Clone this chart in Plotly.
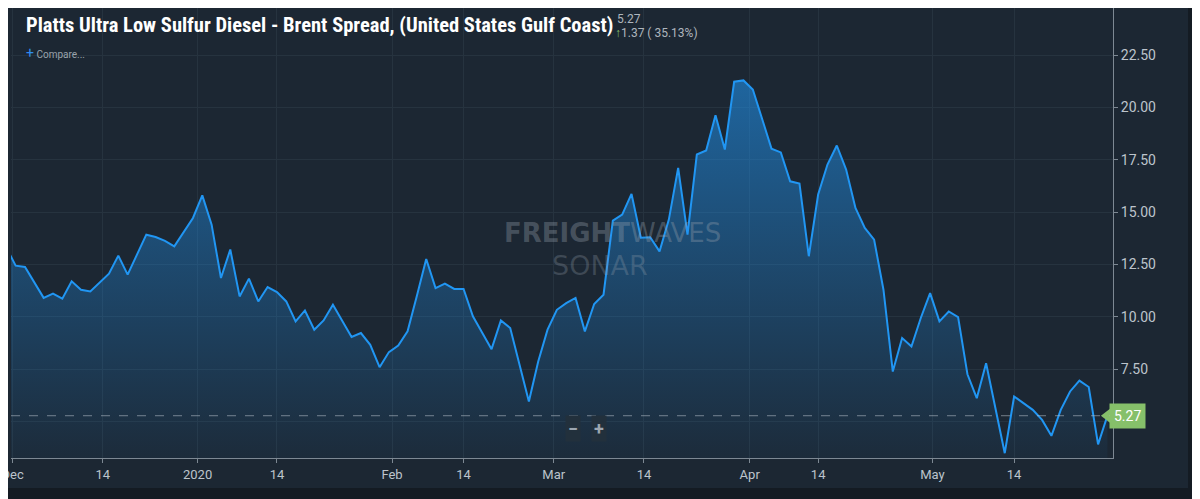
import pandas as pd
import plotly.graph_objects as go

# ---------------- data ----------------
first_day = "2019-11-29"
last_day = "2020-05-29"
# weekdays without an assessment (holidays / gaps in the series)
missing_days = ["2019-12-24", "2019-12-25", "2020-01-01", "2020-01-20",
                "2020-02-06", "2020-02-07", "2020-02-17", "2020-03-31",
                "2020-04-01", "2020-04-10", "2020-05-01", "2020-05-25"]

spread = [13.30, 12.44, 12.38, 11.63, 10.90, 11.10, 10.86, 11.69, 11.29, 11.21,
          11.62, 12.06, 12.92, 12.01, 12.97, 13.92, 13.81, 13.62, 13.36, 14.03,
          14.72, 15.80, 14.40, 11.85, 13.21, 10.97, 11.82, 10.73, 11.42, 11.18,
          10.73, 9.78, 10.30, 9.38, 9.82, 10.57, 9.78, 9.03, 9.22, 8.66,
          7.59, 8.31, 8.62, 9.30, 11.00, 12.76, 11.37, 11.58, 11.33, 11.33,
          10.02, 9.22, 8.45, 9.82, 9.46, 7.70, 5.95, 7.86, 9.38, 10.33,
          10.65, 10.90, 9.30, 10.61, 11.05, 14.59, 14.88, 15.87, 13.77, 13.80,
          13.12, 14.64, 17.11, 13.92, 17.75, 17.94, 19.63, 17.99, 21.23, 21.29,
          20.86, 19.45, 18.03, 17.85, 16.47, 16.36, 12.89, 15.84, 17.27, 18.18,
          17.03, 15.20, 14.24, 13.68, 11.29, 7.38, 8.98, 8.58, 9.94, 11.13,
          9.78, 10.25, 9.98, 7.25, 6.11, 7.78, 5.63, 3.48, 6.19, 5.87,
          5.55, 5.07, 4.31, 5.55, 6.43, 6.95, 6.64, 3.90, 5.27]

tick_dates = ["2019-12-01", "2019-12-14", "2020-01-01", "2020-01-14",
              "2020-02-01", "2020-02-14", "2020-03-01", "2020-03-14",
              "2020-04-01", "2020-04-14", "2020-05-01", "2020-05-14"]
tick_labels = ["Dec", "14", "2020", "14", "Feb", "14", "Mar", "14",
               "Apr", "14", "May", "14"]
# 5.00 is hidden behind the last-value label in the original
y_ticks = [7.5, 10.0, 12.5, 15.0, 17.5, 20.0, 22.5]

title_text = "Platts Ultra Low Sulfur Diesel - Brent Spread, (United States Gulf Coast)"
last_value = 5.27
change_value = 1.37
change_pct = 35.13

# ---------------- derived ----------------
miss = set(pd.to_datetime(missing_days))
dates = [d for d in pd.bdate_range(first_day, last_day) if d not in miss]
assert len(dates) == len(spread), (len(dates), len(spread))

# ordinal-axis tick placement: a date between two points sits proportionally between them
day = pd.Timedelta(days=1)
tick_pos = []
for t in pd.to_datetime(tick_dates):
    if t in dates:
        tick_pos.append(t)
        continue
    a = max(d for d in dates if d < t)
    b = min(d for d in dates if d > t)
    f = (t - a) / (b - a)
    tick_pos.append(a + f * day)

# ---------------- geometry (layout only) ----------------
# the page body adds an 8px offset, so the figure is drawn 8px smaller
OFF = 8
W, H = 1200 - OFF, 499 - OFF
# plot area in screen pixels
L, R, T, B = 11, 1113, 8, 458


def px(x):
    return (x - L) / (R - L)


def py(y):
    return (B - y) / (B - T)


BG = "#1c2733"
DARK = "#141b23"
LINE = "#2196f3"
GRID = "#26333f"
AXIS = "#7d8893"
TXT = "#bcc4cc"
GREEN = "#86c06a"

fig = go.Figure()
fig.add_trace(go.Scatter(
    x=dates, y=spread, mode="lines",
    line=dict(color=LINE, width=2),
    fill="tozeroy",
    fillgradient=dict(type="vertical",
                      colorscale=[[0, "rgba(33,150,243,0.04)"],
                                  [1, "rgba(33,150,243,0.58)"]],
                      start=3.25, stop=22.0),
    hoverinfo="skip", showlegend=False,
))
# pointer of the last-value label
fig.add_trace(go.Scatter(
    x=[dates[-1]], y=[last_value], mode="markers",
    marker=dict(symbol="triangle-left", size=13, color=GREEN),
    cliponaxis=False, hoverinfo="skip", showlegend=False,
))

fig.update_layout(
    width=W, height=H,
    margin=dict(l=L - OFF, r=W - (R - OFF), t=T - OFF, b=H - (B - OFF),
                autoexpand=False),
    paper_bgcolor=BG, plot_bgcolor=BG,
    font=dict(family="Roboto, sans-serif", color=TXT),
    xaxis=dict(
        type="date", automargin=False,
        range=[dates[0] + 0.5 * day, dates[-1] + 0.6 * day],
        rangebreaks=[dict(bounds=["sat", "mon"]),
                     dict(values=missing_days)],
        tickvals=tick_pos, ticktext=tick_labels,
        ticklabeloverflow="allow",
        showgrid=True, gridcolor=GRID, gridwidth=1,
        showline=True, linecolor=AXIS, linewidth=1,
        ticks="outside", ticklen=4, tickcolor=AXIS,
        tickfont=dict(family="Roboto", size=13, color=TXT),
        zeroline=False, fixedrange=True,
    ),
    yaxis=dict(
        side="right", automargin=False,
        range=[3.25, 24.75], tickvals=y_ticks,
        tickformat=".2f",
        showgrid=True, gridcolor=GRID, gridwidth=1,
        minor=dict(dtick=2.5, tick0=0, showgrid=True, gridcolor=GRID, ticks=""),
        showline=True, linecolor=AXIS, linewidth=1,
        ticks="outside", ticklen=4, tickcolor=AXIS,
        tickfont=dict(family="Roboto", size=14, color=TXT),
        zeroline=False, fixedrange=True,
    ),
)

# dashed last-value line
fig.add_shape(type="line", xref="paper", yref="y", x0=0, x1=1,
              y0=last_value, y1=last_value,
              line=dict(color="rgba(190,200,210,0.55)", width=1, dash="dash"))

# dark frame strips (right and bottom)
for x0, x1, y0, y1 in [(px(1188), px(1200 + 5), py(499 + 5), py(0)),
                       (px(0), px(1200 + 5), py(499 + 5), py(488))]:
    fig.add_shape(type="rect", xref="paper", yref="paper",
                  x0=x0, x1=x1, y0=y0, y1=y1,
                  fillcolor=DARK, line=dict(width=0), layer="above")

ann = []
ann.append(dict(text="<b>" + title_text + "</b>", x=px(24), y=py(25),
                xanchor="left", yanchor="middle", showarrow=False,
                font=dict(family="Liberation Sans Narrow, Roboto Condensed, DejaVu Sans Condensed, sans-serif",
                          size=20.5, color="#ffffff")))
ann.append(dict(text=f"{last_value:.2f}", x=px(615), y=py(19),
                xanchor="left", yanchor="middle", showarrow=False,
                font=dict(family="Roboto", size=12, color="#aeb6be")))
ann.append(dict(text=f"<span style='color:{GREEN}'>↑</span>{change_value:.2f} ( {change_pct:.2f}%)",
                x=px(613), y=py(33), xanchor="left", yanchor="middle",
                showarrow=False, font=dict(family="Roboto", size=12, color="#aeb6be")))
ann.append(dict(text="<span style='color:#2f8cf0;font-size:14px'>+</span> Compare...",
                x=px(24), y=py(53), xanchor="left", yanchor="middle",
                showarrow=False, font=dict(family="Roboto", size=10, color="#9aa3ac")))
# watermark
ann.append(dict(text="<b>FREIGHT</b>WAVES", x=px(612), y=py(233),
                xanchor="center", yanchor="middle", showarrow=False,
                font=dict(family="DejaVu Sans", size=26, color="rgba(150,160,172,0.36)")))
ann.append(dict(text="SONAR", x=px(600), y=py(266),
                xanchor="center", yanchor="middle", showarrow=False,
                font=dict(family="DejaVu Sans", size=27, color="rgba(150,160,172,0.28)")))
# zoom buttons
ann.append(dict(text="<b>−</b>", x=px(573), y=py(428), xanchor="center",
                yanchor="middle", showarrow=False, bgcolor="#22303c",
                borderpad=2, font=dict(family="Roboto", size=18, color="#9ca6b0")))
ann.append(dict(text="<b>+</b>", x=px(599), y=py(428), xanchor="center",
                yanchor="middle", showarrow=False, bgcolor="#22303c",
                borderpad=2, font=dict(family="Roboto", size=18, color="#9ca6b0")))
# last value label
ann.append(dict(text=f"{last_value:.2f}", x=px(1109), y=last_value, yref="y",
                xanchor="left", yanchor="middle", showarrow=False,
                bgcolor=GREEN, borderpad=4,
                font=dict(family="Roboto", size=14, color="#ffffff")))
for a in ann:
    a.setdefault("xref", "paper")
    a.setdefault("yref", "paper")
fig.update_layout(annotations=ann)

fig.write_html("out.html")
